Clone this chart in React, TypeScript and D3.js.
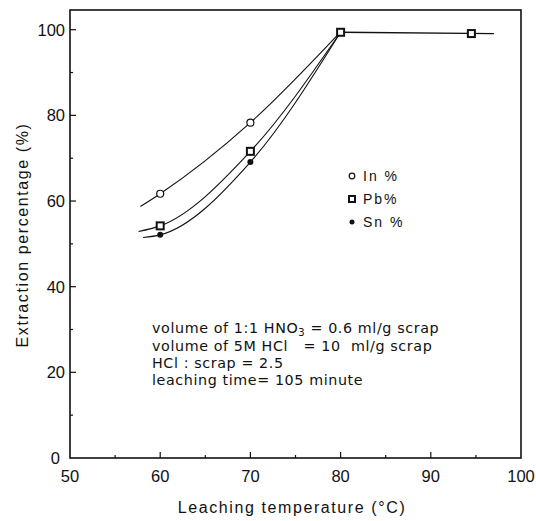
import React from "react";
import * as d3 from "d3";

// measured temperatures (°C) and extraction (%)
const temps = [60, 70, 80];
const inPct = [61.7, 78.3, 99.5];
const pbPct = [54.2, 71.6, 99.4];
const snPct = [52.1, 69.1, 99.4];

// plateau points
const plateauTemps = [80, 94.5];
const plateauPct = [99.4, 99.1];
const plateauEnd = [97, 99.1];

// where the fitted curves begin on the left
const curveStartT = [57.8, 57.6, 58.1];
const curveStartY = [58.7, 52.9, 51.5];

const xTicks = [50, 60, 70, 80, 90, 100];
const yTicks = [0, 20, 40, 60, 80, 100];

const notes = [
  "volume of 1:1 HNO",
  "volume of 5M HCl   = 10  ml/g scrap",
  "HCl : scrap = 2.5",
  "leaching time= 105 minute"
];

const W = 536,
  H = 521;
const left = 70,
  right = 521,
  top = 10,
  bottom = 458;

export default function App() {
  const x = d3.scaleLinear().domain([50, 100]).range([left, right]);
  const y = d3.scaleLinear().domain([0, 104.6]).range([bottom, top]);

  const line = d3
    .line<[number, number]>()
    .x(d => x(d[0]))
    .y(d => y(d[1]))
    .curve(d3.curveMonotoneX);

  const series = [inPct, pbPct, snPct].map((vals, i) => {
    const pts: [number, number][] = [[curveStartT[i], curveStartY[i]]];
    temps.forEach((t, j) => pts.push([t, vals[j]]));
    return pts;
  });

  const font = "'Liberation Sans', Arial, sans-serif";
  const noteFont = "'DejaVu Sans', sans-serif";

  return (
    <div style={{ position: "absolute", left: 0, top: 0 }}>
      <svg width={W} height={H} style={{ display: "block", background: "#fff" }}>
        {/* frame */}
        <rect
          x={left}
          y={top}
          width={right - left}
          height={bottom - top}
          fill="none"
          stroke="#111"
          strokeWidth={1.6}
        />
        {/* x ticks */}
        {d3.range(55, 100, 5).map(t => (
          <line
            key={"xt" + t}
            x1={x(t)}
            x2={x(t)}
            y1={bottom}
            y2={bottom - (t % 10 === 0 ? 6 : 3)}
            stroke="#111"
            strokeWidth={1.2}
          />
        ))}
        {d3.range(10, 110, 10).map(v => (
          <line
            key={"yt" + v}
            x1={left}
            x2={left + (v % 20 === 0 ? 6 : 3)}
            y1={y(v)}
            y2={y(v)}
            stroke="#111"
            strokeWidth={1.2}
          />
        ))}
        {xTicks.map(t => (
          <text
            key={"xl" + t}
            x={x(t)}
            y={482}
            textAnchor="middle"
            fontFamily={font}
            fontSize={16.5}
            fill="#111"
          >
            {t}
          </text>
        ))}
        {yTicks.map(v => (
          <text
            key={"yl" + v}
            x={v === 0 ? 60 : 65}
            y={y(v) + 6}
            textAnchor="end"
            fontFamily={font}
            fontSize={16.5}
            fill="#111"
          >
            {v}
          </text>
        ))}
        {/* axis titles */}
        <text
          x={292}
          y={513}
          textAnchor="middle"
          fontFamily={font}
          fontSize={16}
          letterSpacing={1.6}
          fill="#111"
        >
          Leaching temperature (°C)
        </text>
        <text
          transform={`translate(28,235) rotate(-90)`}
          textAnchor="middle"
          fontFamily={font}
          fontSize={16}
          letterSpacing={1.6}
          fill="#111"
        >
          Extraction percentage (%)
        </text>
        {/* fitted curves */}
        {series.map((pts, i) => (
          <path key={"c" + i} d={line(pts) || ""} fill="none" stroke="#111" strokeWidth={1.1} />
        ))}
        <line
          x1={x(plateauTemps[0])}
          y1={y(plateauPct[0])}
          x2={x(plateauEnd[0])}
          y2={y(plateauEnd[1])}
          stroke="#111"
          strokeWidth={1.3}
        />
        {/* markers */}
        {temps.slice(0, 2).map((t, j) => (
          <g key={"m" + j}>
            <circle cx={x(t)} cy={y(inPct[j])} r={3.5} fill="#fff" stroke="#111" strokeWidth={1.2} />
            <rect
              x={x(t) - 3.5}
              y={y(pbPct[j]) - 3.5}
              width={7}
              height={7}
              fill="#fff"
              stroke="#111"
              strokeWidth={2}
            />
            <circle cx={x(t)} cy={y(snPct[j])} r={3} fill="#111" />
          </g>
        ))}
        {plateauTemps.map((t, j) => (
          <rect
            key={"p" + j}
            x={x(t) - 3.5}
            y={y(plateauPct[j]) - 3.5}
            width={7}
            height={7}
            fill="#fff"
            stroke="#111"
            strokeWidth={2}
          />
        ))}
        {/* legend */}
        <circle cx={352} cy={176} r={2.8} fill="#fff" stroke="#111" strokeWidth={1.2} />
        <rect x={349} y={196} width={6} height={6} fill="#fff" stroke="#111" strokeWidth={2} />
        <circle cx={352} cy={222} r={2.5} fill="#111" />
        {["In %", "Pb%", "Sn %"].map((s, i) => (
          <text
            key={s}
            x={363}
            y={181 + i * 23}
            fontFamily={font}
            fontSize={14}
            letterSpacing={2}
            fill="#111"
          >
            {s}
          </text>
        ))}
        {/* conditions */}
        <text x={152} y={333} fontFamily={noteFont} fontSize={14.3} letterSpacing={0.6} fill="#111">
          {notes[0]}
          <tspan fontSize={10} dy={3}>
            3
          </tspan>
          <tspan dy={-3}>{" = 0.6 ml/g scrap"}</tspan>
        </text>
        {notes.slice(1).map((s, i) => (
          <text
            key={s}
            x={152}
            y={350.5 + i * 17.3}
            fontFamily={noteFont}
            fontSize={14.3}
            letterSpacing={0.6}
            fill="#111"
            style={{ whiteSpace: "pre" }}
          >
            {s}
          </text>
        ))}
      </svg>
    </div>
  );
}
